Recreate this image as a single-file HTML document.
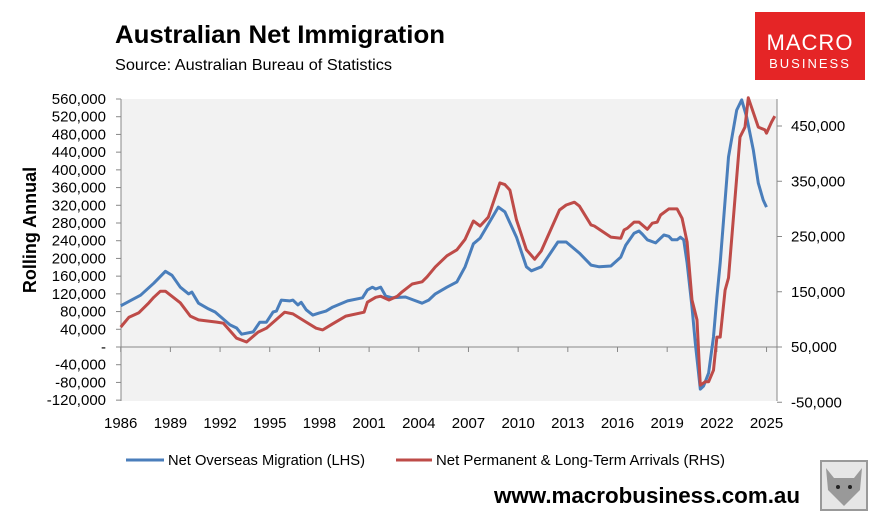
<!DOCTYPE html>
<html><head><meta charset="utf-8"><style>
body{margin:0;background:#fff;font-family:"Liberation Sans",sans-serif;}
</style></head><body>
<svg width="881" height="517" xmlns="http://www.w3.org/2000/svg" font-family="Liberation Sans, sans-serif">
<rect width="881" height="517" fill="#fff"/>
<text x="115" y="43" font-size="25" font-weight="bold" fill="#000" textLength="330" lengthAdjust="spacingAndGlyphs">Australian Net Immigration</text>
<text x="115" y="70" font-size="16" fill="#000" textLength="277" lengthAdjust="spacingAndGlyphs">Source: Australian Bureau of Statistics</text>
<g>
<rect x="755" y="12" width="110" height="68" fill="#e52526"/>
<text x="810" y="50" font-size="22" fill="#fff" text-anchor="middle" letter-spacing="1">MACRO</text>
<text x="810" y="68" font-size="13" fill="#fff" text-anchor="middle" letter-spacing="2">BUSINESS</text>
</g>
<rect x="121" y="99" width="656" height="302" fill="#f2f2f2"/>
<g id="axes"></g>
<g id="series"></g>
<text transform="translate(36,230) rotate(-90)" font-size="18" font-weight="bold" text-anchor="middle">Rolling Annual</text>
<g>
<g><line x1="126" y1="460" x2="164" y2="460" stroke="#4a7ebb" stroke-width="3"/><text x="168" y="465" font-size="15" textLength="197" lengthAdjust="spacingAndGlyphs">Net Overseas Migration (LHS)</text></g>
<g><line x1="396" y1="460" x2="432" y2="460" stroke="#be4b48" stroke-width="3"/><text x="436" y="465" font-size="15" textLength="289" lengthAdjust="spacingAndGlyphs">Net Permanent &amp; Long-Term Arrivals (RHS)</text></g>
</g>
<text x="494" y="503" font-size="22" font-weight="bold" textLength="306" lengthAdjust="spacingAndGlyphs">www.macrobusiness.com.au</text>
<g>
<rect x="821" y="461" width="46" height="49" fill="#e6e6e6" stroke="#999" stroke-width="2"/>
<path d="M826 468 L834 478 L854 478 L862 468 L860 490 L844 506 L828 490 Z" fill="#999"/>
<circle cx="838" cy="487" r="2" fill="#222"/><circle cx="850" cy="487" r="2" fill="#222"/>
</g>
</svg>
<script>
const blueYears=[1986.0,1987.2,1988.0,1988.7,1989.1,1989.6,1990.1,1990.3,1990.7,1991.3,1991.7,1992.6,1993.0,1993.3,1994.0,1994.4,1994.8,1995.2,1995.4,1995.7,1996.2,1996.4,1996.7,1996.9,1997.2,1997.6,1998.0,1998.4,1998.8,1999.7,2000.6,2000.9,2001.2,2001.4,2001.7,2002.0,2002.4,2003.2,2003.7,2004.2,2004.6,2005.0,2005.7,2006.3,2006.8,2007.3,2007.7,2008.8,2009.2,2009.9,2010.5,2010.8,2011.4,2012.4,2012.9,2013.7,2014.4,2014.9,2015.6,2016.2,2016.5,2017.0,2017.3,2017.5,2017.8,2018.3,2018.8,2019.1,2019.3,2019.6,2019.8,2020.0,2020.2,2020.5,2020.7,2021.0,2021.2,2021.5,2021.8,2022.0,2022.2,2022.7,2023.2,2023.5,2023.8,2024.2,2024.5,2024.8,2025.0];
const blueValues=[93000,117000,144000,171000,162000,135000,120000,124000,99000,86000,79000,50000,43000,29000,34000,56000,56000,79000,81000,106000,104000,106000,95000,101000,84000,72000,77000,81000,90000,104000,111000,129000,135000,131000,135000,115000,111000,113000,106000,99000,106000,120000,135000,147000,181000,233000,246000,316000,305000,248000,181000,172000,181000,237000,237000,212000,185000,181000,183000,203000,230000,257000,262000,255000,242000,235000,253000,250000,242000,242000,248000,242000,190000,90000,9000,-95000,-88000,-59000,23000,113000,190000,429000,535000,558000,519000,445000,370000,332000,316000];
const redYears=[1986.0,1986.5,1987.1,1987.7,1988.0,1988.4,1988.7,1989.6,1990.2,1990.7,1991.8,1992.2,1993.0,1993.6,1994.3,1994.8,1995.9,1996.4,1997.2,1997.8,1998.2,1998.8,1999.2,1999.6,2000.7,2000.9,2001.4,2001.7,2002.2,2002.7,2003.0,2003.6,2004.2,2004.5,2005.0,2005.7,2006.3,2006.8,2007.3,2007.7,2008.2,2008.9,2009.2,2009.5,2009.9,2010.5,2011.0,2011.4,2012.5,2012.9,2013.4,2013.7,2014.4,2014.6,2015.6,2016.2,2016.4,2016.6,2017.0,2017.3,2017.8,2018.1,2018.4,2018.6,2019.1,2019.6,2019.9,2020.2,2020.5,2020.8,2021.0,2021.3,2021.5,2021.8,2022.0,2022.2,2022.5,2022.7,2023.4,2023.7,2023.9,2024.5,2024.9,2025.0,2025.3,2025.5];
const redValues=[86000,104000,112000,130000,140000,151000,151000,130000,106000,99000,95000,93000,66000,59000,77000,84000,113000,110000,95000,84000,81000,92000,99000,106000,113000,131000,140000,142000,135000,142000,150000,164000,168000,177000,195000,215000,226000,245000,278000,269000,285000,347000,344000,334000,280000,226000,209000,224000,298000,307000,312000,305000,271000,269000,249000,247000,262000,265000,276000,276000,263000,274000,276000,289000,300000,300000,283000,240000,135000,99000,-19000,-13000,-13000,8000,68000,68000,153000,175000,430000,448000,501000,448000,443000,437000,457000,468000];
const leftTicks=[560000,520000,480000,440000,400000,360000,320000,280000,240000,200000,160000,120000,80000,40000,0,-40000,-80000,-120000];
const rightTicks=[450000,350000,250000,150000,50000,-50000];
const xTicks=[1986,1989,1992,1995,1998,2001,2004,2007,2010,2013,2016,2019,2022,2025];

const NS='http://www.w3.org/2000/svg';
const xS=y=>120.7+(y-1986)*16.56;
const yL=v=>347-v*248/560000;
const yR=v=>347-(v-50000)*0.5525/1000;
const fmt=v=>v===0?'-':v.toLocaleString('en-US');
const axes=document.getElementById('axes');
function mk(tag,attrs,parent){const e=document.createElementNS(NS,tag);for(const k in attrs)e.setAttribute(k,attrs[k]);parent.appendChild(e);return e;}
mk('line',{x1:121,y1:99,x2:121,y2:401,stroke:'#888'},axes);
mk('line',{x1:777,y1:99,x2:777,y2:401,stroke:'#888'},axes);
mk('line',{x1:121,y1:yL(0),x2:777,y2:yL(0),stroke:'#888'},axes);
leftTicks.forEach(v=>{
  mk('line',{x1:116,y1:yL(v),x2:121,y2:yL(v),stroke:'#888'},axes);
  const t=mk('text',{x:106,y:yL(v)+5,'font-size':15,'text-anchor':'end'},axes);
  
  
  t.textContent=fmt(v);
});
rightTicks.forEach(v=>{
  mk('line',{x1:777,y1:yR(v),x2:782,y2:yR(v),stroke:'#888'},axes);
  const t=mk('text',{x:791,y:yR(v)+5,'font-size':15},axes);
  
  
  t.textContent=v.toLocaleString('en-US');
});
xTicks.forEach(y=>{
  mk('line',{x1:xS(y),y1:yL(0),x2:xS(y),y2:yL(0)+5,stroke:'#888'},axes);
  const t=mk('text',{x:xS(y),y:428,'font-size':15,'text-anchor':'middle'},axes);
  
  
  t.textContent=y;
});
const ser=document.getElementById('series');
const pb=mk('polyline',{points:blueYears.map((y,i)=>xS(y).toFixed(1)+','+yL(blueValues[i]).toFixed(1)).join(' '),fill:'none',stroke:'#4a7ebb','stroke-width':3,'stroke-linejoin':'round'},ser);


const pr=mk('polyline',{points:redYears.map((y,i)=>xS(y).toFixed(1)+','+yR(redValues[i]).toFixed(1)).join(' '),fill:'none',stroke:'#be4b48','stroke-width':3,'stroke-linejoin':'round'},ser);


</script>
</body></html>
